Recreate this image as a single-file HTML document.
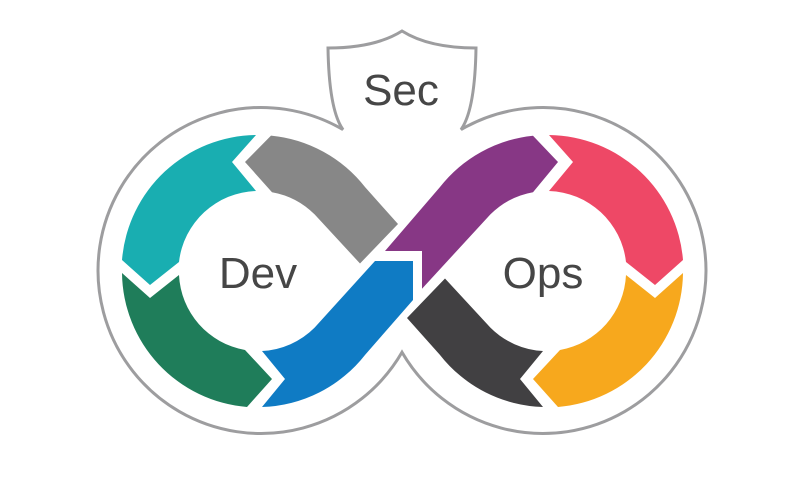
<!DOCTYPE html>
<html>
<head>
<meta charset="utf-8">
<style>
  html, body { margin: 0; padding: 0; background: #ffffff; }
  svg { display: block; }
  text { font-family: "Liberation Sans", Arial, sans-serif; fill: #464646; }
</style>
</head>
<body>
<svg width="800" height="500" viewBox="0 0 800 500" xmlns="http://www.w3.org/2000/svg">
  <rect width="800" height="500" fill="#ffffff"/>

  <!-- Outline: infinity + shield -->
  <path d="M 343 129.6
           A 163 163 0 1 0 402 352.3
           A 163 163 0 1 0 461 129.6
           Q 475 110 476 48
           Q 429 48 402 31
           Q 375 48 328 48
           Q 329 110 343 129.6 Z"
        fill="#ffffff" stroke="#9d9d9f" stroke-width="3" stroke-linejoin="miter"/>

  <!-- Left ring -->
  <!-- Teal -->
  <path d="M 122 260 A 136 136 0 0 1 256 135 L 232 162 L 256 191 A 80 80 0 0 0 179 262 L 150 285 Z" fill="#19AEB1"/>
  <!-- Green -->
  <path d="M 122 273 L 150 298 L 179 275 A 80 80 0 0 0 245 350 L 272 379 L 247 407 A 136 136 0 0 1 122 273 Z" fill="#1F7D5A"/>
  <!-- Gray -->
  <path d="M 271 135.6 A 136 136 0 0 1 365.2 187.3 L 398 224 L 360 263.5 L 314.6 214.4 A 80 80 0 0 0 272 192.2 L 245 162 Z" fill="#878787"/>

  <!-- Right ring -->
  <!-- Dark gray -->
  <path d="M 445 278.5 L 490.4 327.6 A 80 80 0 0 0 543 351 L 520 379 L 543 407 A 136 136 0 0 1 439.8 354.7 L 407 318 Z" fill="#414042"/>
  <!-- Blue -->
  <path d="M 262 351 A 80 80 0 0 0 314.6 327.6 L 375 261 L 413 261 L 413 300 L 365.2 354.7 A 136 136 0 0 1 262 407 L 285 379 Z" fill="#0F7BC4"/>
  <!-- Purple -->
  <path d="M 385 251 L 439.8 187.3 A 136 136 0 0 1 533 135.7 L 558 162 L 533 192.2 A 80 80 0 0 0 490.4 214.4 L 422 288.7 L 422 251 Z" fill="#873785"/>
  <!-- Red -->
  <path d="M 549 135 L 573 162 L 549 191 A 80 80 0 0 1 626 262 L 655 285 L 683 260 A 136 136 0 0 0 549 135 Z" fill="#EE4866"/>
  <!-- Orange -->
  <path d="M 683 273 L 655 298 L 626 275 A 80 80 0 0 1 560 350 L 533 379 L 558 407 A 136 136 0 0 0 683 273 Z" fill="#F7A81D"/>

  <!-- Labels -->
  <text x="401" y="105" font-size="44" text-anchor="middle">Sec</text>
  <text x="258" y="288" font-size="44" text-anchor="middle">Dev</text>
  <text x="543" y="288" font-size="44" text-anchor="middle">Ops</text>
</svg>
</body>
</html>
